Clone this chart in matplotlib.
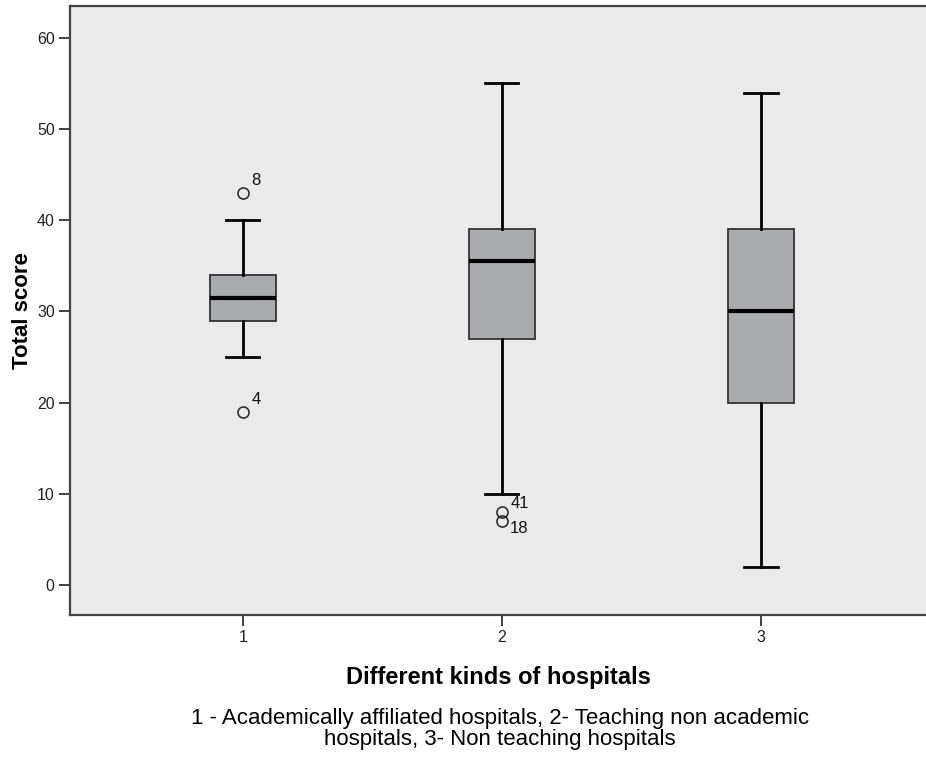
import matplotlib
matplotlib.use("Agg")
import matplotlib.pyplot as plt

plt.rcParams['font.family'] = ['Liberation Sans', 'DejaVu Sans']

# box statistics
groups = [1, 2, 3]
whislo = [25, 10, 2]
q1 = [29, 27, 20]
med = [31.5, 35.5, 30]
q3 = [34, 39, 39]
whishi = [40, 55, 54]
fliers = [[43, 19], [8, 7], []]
flier_ids = [["8", "4"], ["41", "18"], []]

fig = plt.figure(figsize=(9.26, 7.57), dpi=100)
ax = fig.add_axes([70 / 926, 142 / 757, 1 - 70 / 926, 609 / 757])
ax.set_facecolor('#eaeaea')

stats = []
for i in range(len(groups)):
    stats.append(dict(med=med[i], q1=q1[i], q3=q3[i], whislo=whislo[i],
                      whishi=whishi[i], fliers=fliers[i], label=str(groups[i])))

ax.bxp(stats, positions=groups, widths=0.255, patch_artist=True,
       boxprops=dict(facecolor='#a9acad', edgecolor='#333333', linewidth=1.3),
       medianprops=dict(color='black', linewidth=3),
       whiskerprops=dict(color='black', linewidth=2),
       capprops=dict(color='black', linewidth=2),
       capwidths=0.128,
       flierprops=dict(marker='o', markerfacecolor='none', markeredgecolor='#222222',
                       markersize=8, markeredgewidth=1.1))

# case numbers next to the outliers
offsets = {"8": 9, "4": 9, "41": 6, "18": -5}
for i in range(len(groups)):
    for v, lab in zip(fliers[i], flier_ids[i]):
        ax.annotate(lab, (groups[i], v), xytext=(6, offsets[lab]), textcoords='offset points',
                    fontsize=12, ha='left', va='center', color='#111111')

ax.set_xlim(0.333, 3.637)
ax.set_ylim(-3.3, 63.5)
ax.set_yticks([0, 10, 20, 30, 40, 50, 60])
ax.set_xticks(groups)
ax.set_xticklabels([str(g) for g in groups])
ax.tick_params(axis='both', labelsize=11.5, length=8, width=1.3, color='#333333',
               labelcolor='#222222', pad=3)

for s in ['left', 'bottom', 'top']:
    ax.spines[s].set_color('#444444')
    ax.spines[s].set_linewidth(1.6)
ax.spines['right'].set_visible(False)

ax.set_ylabel('Total score', fontsize=16, fontweight='bold', labelpad=3)
ax.set_xlabel('Different kinds of hospitals', fontsize=17, fontweight='bold', labelpad=15)

fig.text(500 / 926, 1 - 729 / 757,
         '1 - Academically affiliated hospitals, 2- Teaching non academic\nhospitals, 3- Non teaching hospitals',
         ha='center', va='center', fontsize=16, linespacing=0.95)

fig.savefig('out.png', dpi=100)
